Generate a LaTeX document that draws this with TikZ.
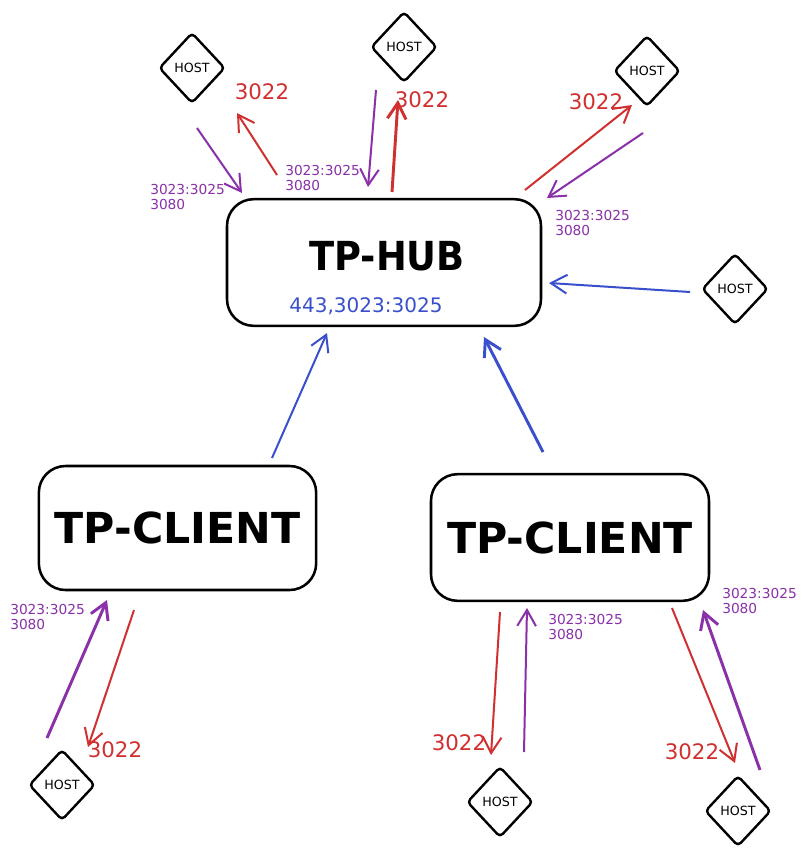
\documentclass[tikz,border=0pt]{standalone}
\usepackage{fontspec}
\setmainfont{DejaVu Sans}
\usetikzlibrary{shapes.geometric,arrows.meta}
\definecolor{cred}{HTML}{D03030}
\definecolor{cpur}{HTML}{8A30A8}
\definecolor{cblue}{HTML}{3A4FCC}
\begin{document}
\begin{tikzpicture}[x=0.75pt,y=-0.75pt,
  host/.style={draw,diamond,line width=1.8pt,rounded corners=3pt,minimum width=49.5pt,minimum height=53pt,inner sep=0pt,font=\fontsize{9.5}{10}\selectfont},
  box/.style={draw,rectangle,rounded corners=20pt,line width=1.9pt,font=\fontsize{32}{34}\selectfont\bfseries},
  arr/.style={line width=1.5pt,-{Straight Barb[length=12pt,width=14pt]}},
  thk/.style={line width=2.2pt},
  pl/.style={align=left,anchor=west,inner sep=0pt,text=cpur,font=\fontsize{10.3}{11.5}\selectfont},
  rl/.style={inner sep=0pt,text=cred,font=\fontsize{16}{18}\selectfont}]
\useasboundingbox[fill=white] (0,0) rectangle (804,860);
% boxes
\node[box,minimum width=235.5pt,minimum height=95pt] (hub) at (384,262.5) {};
\node[inner sep=0pt,font=\fontsize{30}{34}\selectfont\bfseries] (hubt) at (387,256) {\scalebox{0.92}[1]{TP-HUB}};
\node[inner sep=0pt,text=cblue,font=\fontsize{15}{16}\selectfont] (hubp) at (366,306) {443,3023:3025};
\node[box,minimum width=208pt,minimum height=93pt] (lc) at (177.5,528) {TP-CLIENT};
\node[box,minimum width=208.5pt,minimum height=95pt] (rc) at (570,537.5) {TP-CLIENT};
% hosts
\node[host] (h1) at (192,68) {HOST};
\node[host] (h2) at (404,47) {HOST};
\node[host] (h3) at (647,71) {HOST};
\node[host] (h4) at (735,289) {HOST};
\node[host] (h5) at (62,785) {HOST};
\node[host] (h6) at (500,802) {HOST};
\node[host] (h7) at (738,811) {HOST};
% arrow end points
\coordinate (a1s) at (197,128); \coordinate (a1e) at (242,193);
\coordinate (a2s) at (277,175); \coordinate (a2e) at (237,113);
\coordinate (a3s) at (376,90);  \coordinate (a3e) at (368,187);
\coordinate (a4s) at (392,192); \coordinate (a4e) at (398,100);
\coordinate (a5s) at (525,190); \coordinate (a5e) at (632,105);
\coordinate (a6s) at (643,133); \coordinate (a6e) at (547,198);
\coordinate (a7s) at (690,292); \coordinate (a7e) at (549,283);
\coordinate (a8s) at (272,458); \coordinate (a8e) at (327,333);
\coordinate (a9s) at (543,452); \coordinate (a9e) at (484,337);
\coordinate (b1s) at (47,738);  \coordinate (b1e) at (107,600);
\coordinate (b2s) at (134,610); \coordinate (b2e) at (88,747);
\coordinate (b3s) at (500,612); \coordinate (b3e) at (491,755);
\coordinate (b4s) at (524,752); \coordinate (b4e) at (527,608);
\coordinate (b5s) at (672,608); \coordinate (b5e) at (735,763);
\coordinate (b6s) at (760,770); \coordinate (b6e) at (703,610);
% arrows
\draw[arr,cpur] (a1s) -- (a1e);
\draw[arr,cred] (a2s) -- (a2e);
\draw[arr,cpur] (a3s) -- (a3e);
\draw[arr,cred,thk] (a4s) -- (a4e);
\draw[arr,cred] (a5s) -- (a5e);
\draw[arr,cpur] (a6s) -- (a6e);
\draw[arr,cblue] (a7s) -- (a7e);
\draw[arr,cblue] (a8s) -- (a8e);
\draw[arr,cblue,thk] (a9s) -- (a9e);
\draw[arr,cpur,thk] (b1s) -- (b1e);
\draw[arr,cred] (b2s) -- (b2e);
\draw[arr,cred] (b3s) -- (b3e);
\draw[arr,cpur] (b4s) -- (b4e);
\draw[arr,cred] (b5s) -- (b5e);
\draw[arr,cpur,thk] (b6s) -- (b6e);
% labels
\node[rl] (r1) at (262,92) {3022};
\node[rl] (r2) at (422,100) {3022};
\node[rl] (r3) at (596,102) {3022};
\node[rl] (r4) at (115,750) {3022};
\node[rl] (r5) at (459,743) {3022};
\node[rl] (r6) at (692,752) {3022};
\node[pl] (p1) at (150,197) {3023:3025\\3080};
\node[pl] (p2) at (285,178) {3023:3025\\3080};
\node[pl] (p3) at (555,223) {3023:3025\\3080};
\node[pl] (p4) at (10,617) {3023:3025\\3080};
\node[pl] (p5) at (548,627) {3023:3025\\3080};
\node[pl] (p6) at (722,601) {3023:3025\\3080};
\end{tikzpicture}
\end{document}
